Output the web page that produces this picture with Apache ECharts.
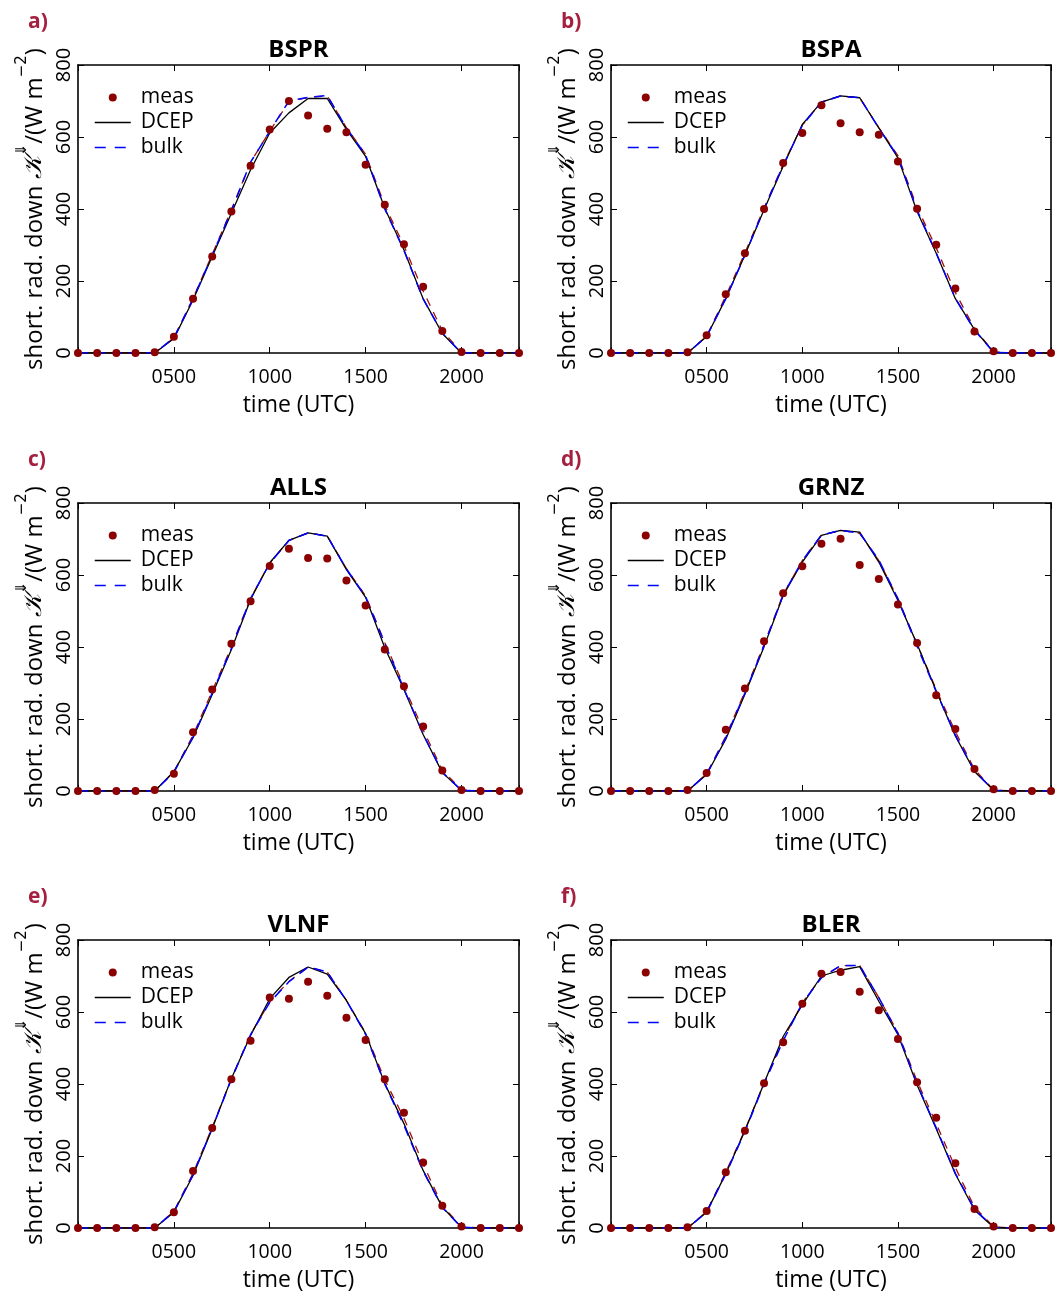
<!DOCTYPE html>
<html><head><meta charset="utf-8">
<script src="https://cdn.jsdelivr.net/npm/echarts@6/dist/echarts.min.js"></script>
<style>html,body{margin:0;padding:0;background:#fff}#c{width:1055px;height:1293px}</style>
</head><body><div id="c"></div>
<script>
// ---------- data ----------
const hours = [0,100,200,300,400,500,600,700,800,900,1000,1100,1200,1300,1400,1500,1600,1700,1800,1900,2000,2100,2200,2300];
const stations = ['BSPR','BSPA','ALLS','GRNZ','VLNF','BLER'];
const panelLetters = ['a)','b)','c)','d)','e)','f)'];
const xTickValues = [500,1000,1500,2000];
const yTickValues = [0,200,400,600,800];

const meas_a = [0,0,0,0,2,45,151,268,393,520,621,700,660,623,613,523,412,302,184,61,3,0,0,0];
const dcep_a = [0,0,0,0,0,40,147,268,388,509,611,667,707,707,621,546,402,286,151,54,0,0,0,0];
const bulk_a = [0,0,0,0,0,42,150,272,395,530,616,700,710,715,625,550,400,285,150,55,0,0,0,0];
const alt_a  = [0,0,0,0,0,42,152,274,398,530,616,698,710,714,626,552,410,298,172,62,2,0,0,0];

const meas_b = [0,0,0,0,2,49,163,277,400,528,611,688,638,613,606,532,401,301,179,60,5,0,0,0];
const dcep_b = [0,0,0,0,0,46,151,272,398,519,635,697,714,709,625,542,393,277,151,65,2,0,0,0];
const bulk_b = [0,0,0,0,0,46,151,272,400,522,632,697,714,709,625,545,397,278,152,64,2,0,0,0];
const alt_b  = [0,0,0,0,0,47,158,278,403,524,633,697,714,709,626,548,405,292,168,68,3,0,0,0];

const meas_c = [0,0,0,0,3,48,163,282,409,527,625,673,647,646,585,515,393,291,179,57,3,0,0,0];
const dcep_c = [0,0,0,0,0,54,148,268,393,532,634,696,717,708,615,538,398,282,157,51,2,0,0,0];
const bulk_c = [0,0,0,0,0,52,150,272,396,535,632,696,717,708,617,540,410,284,158,52,2,0,0,0];
const alt_c  = [0,0,0,0,0,53,155,278,400,536,633,696,717,708,618,542,412,292,170,58,3,0,0,0];

const meas_d = [0,0,0,0,3,50,170,285,416,549,624,687,701,628,589,518,411,266,172,61,5,0,0,0];
const dcep_d = [0,0,0,0,0,46,144,269,401,543,636,710,724,719,636,529,408,278,153,54,2,0,0,0];
const bulk_d = [0,0,0,0,0,47,148,272,404,545,640,711,724,716,642,534,402,276,155,56,2,0,0,0];
const alt_d  = [0,0,0,0,0,48,152,276,407,546,640,711,724,716,640,534,408,282,165,60,3,0,0,0];

const meas_e = [0,0,0,0,2,44,158,278,413,520,640,637,684,645,584,522,413,320,182,62,4,0,0,0];
const dcep_e = [0,0,0,0,0,44,146,276,415,535,637,696,725,705,632,540,401,290,160,58,2,0,0,0];
const bulk_e = [0,0,0,0,0,45,148,278,413,537,627,684,725,711,632,538,400,285,158,57,2,0,0,0];
const alt_e  = [0,0,0,0,0,46,152,280,415,538,628,685,725,711,632,542,412,305,178,62,3,0,0,0];

const meas_f = [0,0,0,0,2,47,155,270,402,516,623,706,711,656,605,525,405,306,180,53,4,0,0,0];
const dcep_f = [0,0,0,0,0,44,151,270,402,532,620,700,716,726,630,537,397,276,150,50,2,0,0,0];
const bulk_f = [0,0,0,0,0,44,150,268,400,520,625,695,729,729,640,540,400,278,152,52,2,0,0,0];
const alt_f  = [0,0,0,0,0,46,155,272,403,523,626,696,729,729,640,542,408,290,168,58,3,0,0,0];

const measSets = [meas_a, meas_b, meas_c, meas_d, meas_e, meas_f];
const dcepSets = [dcep_a, dcep_b, dcep_c, dcep_d, dcep_e, dcep_f];
const bulkSets = [bulk_a, bulk_b, bulk_c, bulk_d, bulk_e, bulk_f];
const altSets  = [alt_a, alt_b, alt_c, alt_d, alt_e, alt_f];

// ---------- layout ----------
const FONT = 'Open Sans';
const colLeft = [78, 611], colWidth = [441, 440];
const rowTop = [65, 503, 940], plotH = 288;
const measColor = '#8b0000', labelColor = '#a51f3f';
const bulkDash = [10, 7];

const grids = [], xAxes = [], yAxes = [], series = [], titles = [], legends = [];
const pair = (arr) => hours.map((h, j) => [h, arr[j]]);

for (let i = 0; i < 6; i++) {
  const c = i % 2, r = Math.floor(i / 2);
  const L = colLeft[c], W = colWidth[c], T = rowTop[r];
  grids.push({left: L, top: T, width: W, height: plotH, show: false});
  const xBase = {
    gridIndex: i, type: 'value', min: 0, max: 2300, interval: 500,
    splitLine: {show: false},
    axisLine: {show: true, onZero: false, lineStyle: {color: '#000', width: 1.6}},
    axisTick: {show: true, inside: true, length: 6, lineStyle: {color: '#000', width: 1}}
  };
  xAxes.push(Object.assign({}, xBase, {
    position: 'bottom',
    axisLabel: {show: true, margin: 14, color: '#000', fontSize: 19.5, fontFamily: FONT,
      formatter: v => xTickValues.indexOf(v) >= 0 ? String(v).padStart(4, '0') : ''},
    name: 'time (UTC)', nameLocation: 'middle', nameGap: 41,
    nameTextStyle: {color: '#000', fontSize: 23, fontFamily: FONT}
  }));
  xAxes.push(Object.assign({}, xBase, {position: 'top', axisLabel: {show: false}}));
  const yBase = {
    gridIndex: i, type: 'value', min: 0, max: 800, interval: 200,
    splitLine: {show: false},
    axisLine: {show: true, onZero: false, lineStyle: {color: '#000', width: 1.6}},
    axisTick: {show: true, inside: true, length: 6, lineStyle: {color: '#000', width: 1}}
  };
  yAxes.push(Object.assign({}, yBase, {
    position: 'left',
    axisLabel: {show: true, rotate: 90, margin: 4, color: '#000', fontSize: 20, fontFamily: FONT,
      formatter: v => yTickValues.indexOf(v) >= 0 ? String(v) : ''},
    name: '{a|short. rad. down }{k|𝒦}{s|⇓}{a|/(W m}{s|−2}{a|)}',
    nameLocation: 'middle', nameRotate: 90, nameGap: 31,
    nameTextStyle: {
      color: '#000', fontSize: 24, fontFamily: FONT,
      rich: {
        a: {fontSize: 24, fontFamily: FONT, color: '#000', lineHeight: 32, verticalAlign: 'bottom'},
        k: {fontSize: 25, fontFamily: 'DejaVu Serif', fontStyle: 'italic', color: '#000', lineHeight: 32, verticalAlign: 'bottom'},
        s: {fontSize: 15, fontFamily: 'DejaVu Sans', color: '#000', verticalAlign: 'top'}
      }
    }
  }));
  yAxes.push(Object.assign({}, yBase, {position: 'right', axisLabel: {show: false}}));

  const xi = 2 * i, yi = 2 * i;
  series.push({name: 'alt', type: 'line', xAxisIndex: xi, yAxisIndex: yi, data: pair(altSets[i]),
    symbol: 'none', lineStyle: {color: '#a01010', width: 1.3, type: [8, 7]}, z: 1, silent: true, animation: false});
  series.push({name: 'DCEP', type: 'line', xAxisIndex: xi, yAxisIndex: yi, data: pair(dcepSets[i]),
    symbol: 'none', lineStyle: {color: '#000', width: 1.3, type: 'solid'}, itemStyle: {color: '#000'}, z: 2, animation: false});
  series.push({name: 'bulk', type: 'line', xAxisIndex: xi, yAxisIndex: yi, data: pair(bulkSets[i]),
    symbol: 'none', lineStyle: {color: '#0000ff', width: 1.5, type: bulkDash}, itemStyle: {color: '#0000ff'}, z: 3, animation: false});
  series.push({name: 'meas', type: 'scatter', xAxisIndex: xi, yAxisIndex: yi, data: pair(measSets[i]),
    symbol: 'circle', symbolSize: 8, itemStyle: {color: measColor, opacity: 1}, z: 4, animation: false});

  titles.push({text: stations[i], left: L + W / 2, top: T - 27, textAlign: 'center', padding: 0,
    textStyle: {fontSize: 24, fontWeight: 'bold', fontFamily: FONT, color: '#000'}});
  titles.push({text: panelLetters[i], left: L - 50, top: T - 53, padding: 0,
    textStyle: {fontSize: 21, fontWeight: 'bold', fontFamily: FONT, color: labelColor}});

  legends.push({
    orient: 'vertical', left: L + 11, top: T + 17, itemWidth: 36, itemHeight: 8, itemGap: 4,
    selectedMode: false,
    textStyle: {fontSize: 21, fontFamily: FONT, color: '#000', padding: [0, 0, 0, 5]},
    data: [
      {name: 'meas', icon: 'circle', itemStyle: {color: measColor, opacity: 1}},
      {name: 'DCEP', itemStyle: {opacity: 0}, lineStyle: {color: '#000', width: 1.3, type: 'solid', opacity: 1}},
      {name: 'bulk', itemStyle: {opacity: 0}, lineStyle: {color: '#0000ff', width: 1.5, type: [11, 9], opacity: 1}}
    ]
  });
}

const chart = echarts.init(document.getElementById('c'), null, {renderer: 'canvas'});
chart.setOption({
  backgroundColor: '#fff',
  animation: false,
  title: titles, legend: legends, grid: grids, xAxis: xAxes, yAxis: yAxes, series: series
});
</script></body></html>
